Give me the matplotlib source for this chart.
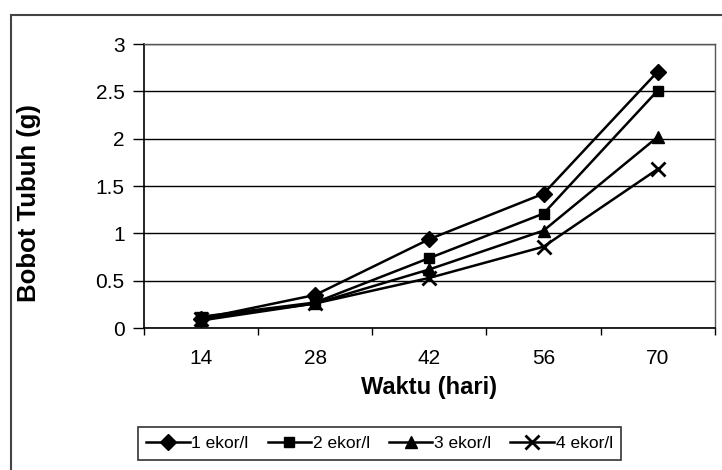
import numpy as np
import matplotlib
matplotlib.use("Agg")
import matplotlib.pyplot as plt
from matplotlib.patches import Rectangle

plt.rcParams['font.family'] = ['Liberation Sans', 'DejaVu Sans']

# data
days = ["14", "28", "42", "56", "70"]
ekor1 = [0.10, 0.35, 0.94, 1.42, 2.71]
ekor2 = [0.12, 0.27, 0.74, 1.21, 2.51]
ekor3 = [0.08, 0.26, 0.62, 1.03, 2.02]
ekor4 = [0.10, 0.26, 0.53, 0.86, 1.68]
labels = ["1 ekor/l", "2 ekor/l", "3 ekor/l", "4 ekor/l"]
markers = ["D", "s", "^", "x"]
msizes = [8, 7.5, 9, 10]

fig = plt.figure(figsize=(7.22, 4.70), dpi=100)
ax = fig.add_axes([0.1994, 0.302, 0.7906, 0.604])

x = np.arange(len(days))
for ys, lab, m, ms in zip([ekor1, ekor2, ekor3, ekor4], labels, markers, msizes):
    ax.plot(x, ys, color="black", lw=1.8, marker=m, ms=ms, mew=2 if m == "x" else 1,
            label=lab, zorder=3)

ax.set_xlim(-0.5, len(days) - 0.5)
ax.set_ylim(0, 3)
ax.set_yticks(np.arange(0, 3.01, 0.5))
ax.set_yticklabels(["0", "0.5", "1", "1.5", "2", "2.5", "3"])
ax.yaxis.grid(True, color="black", lw=1)
ax.set_axisbelow(True)

ax.set_xticks(x)
ax.set_xticklabels(days)
ax.set_xticks(np.arange(-0.5, len(days), 1.0), minor=True)
ax.tick_params(axis="x", which="major", length=0, pad=15, labelsize=15)
ax.tick_params(axis="x", which="minor", length=5, width=1, direction="out")
ax.tick_params(axis="y", length=8, width=1, direction="out", pad=6, labelsize=15)

for s in ["left", "bottom"]:
    ax.spines[s].set_color("black")
    ax.spines[s].set_linewidth(1.2)
for s in ["top", "right"]:
    ax.spines[s].set_color("#555555")
    ax.spines[s].set_linewidth(1)

ax.set_xlabel("Waktu (hari)", fontsize=17, fontweight="bold", labelpad=6)
ax.set_ylabel("Bobot Tubuh (g)", fontsize=18.5, fontweight="bold")
ax.yaxis.set_label_coords(-0.180, 0.44)

leg = ax.legend(loc="center", bbox_to_anchor=(0.5256, 0.0564),
                bbox_transform=fig.transFigure, ncol=4, fontsize=12.5,
                frameon=True, fancybox=False, edgecolor="black",
                handlelength=2.5, handletextpad=0.1, columnspacing=1.1,
                borderpad=0.5)
leg.get_frame().set_linewidth(1.2)

# outer chart border
fig.patches.append(Rectangle((11 / 722, -0.05), 1.1, 1 - 15 / 470 + 0.05,
                             transform=fig.transFigure, fill=False,
                             edgecolor="#444444", lw=1.5))

fig.savefig("out.png", dpi=100)
